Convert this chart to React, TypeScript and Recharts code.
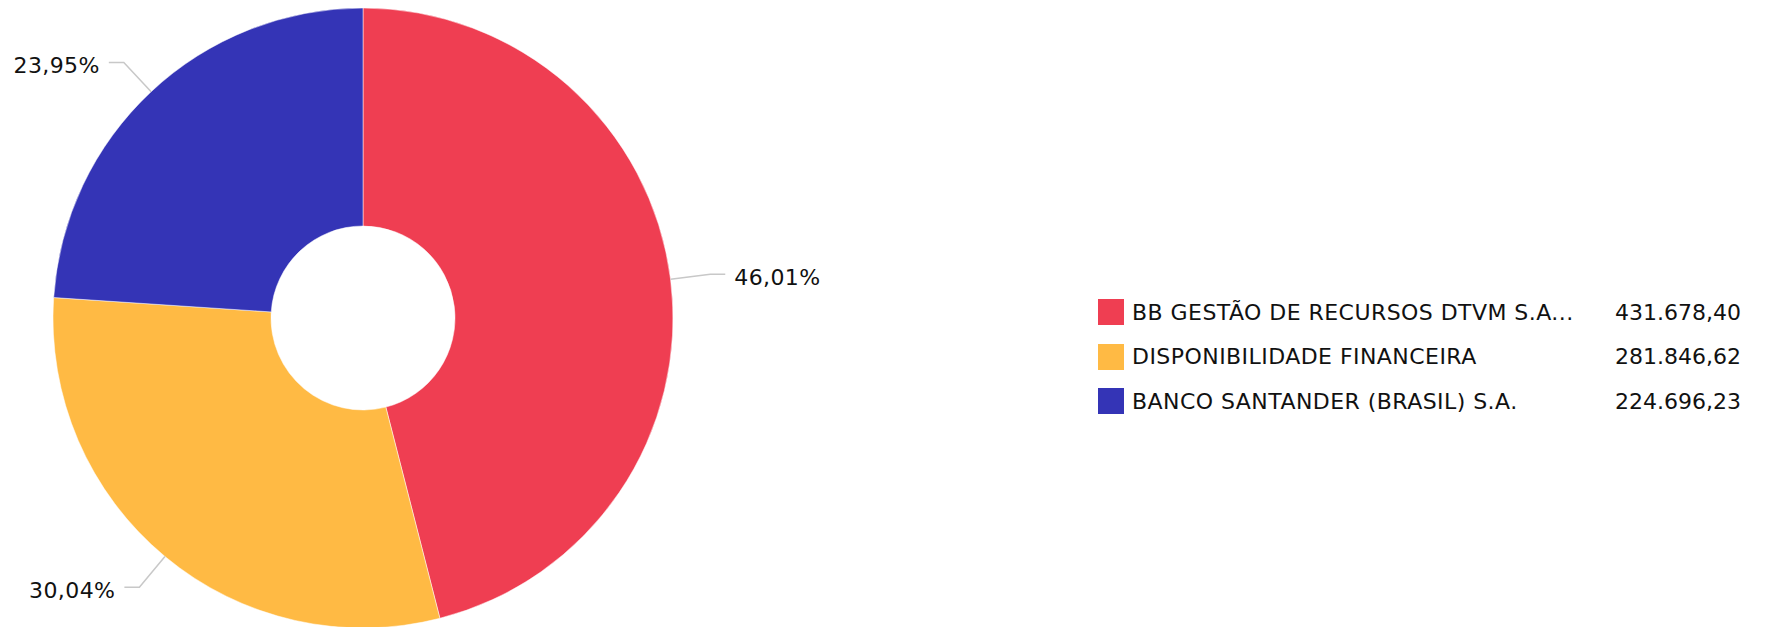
import React from "react";
import { PieChart, Pie, Cell, Legend } from "recharts";

const names = [
  "BB GESTÃO DE RECURSOS DTVM S.A...",
  "DISPONIBILIDADE FINANCEIRA",
  "BANCO SANTANDER (BRASIL) S.A.",
];
const amounts = [431678.4, 281846.62, 224696.23];
const colors = ["#ef3e52", "#ffba44", "#3434b6"];

const data = names.map((name, i) => ({ name, value: amounts[i] }));

const FONT = "'DejaVu Sans', Verdana, sans-serif";
const RADIAN = Math.PI / 180;

const fmtMoney = (v: number) =>
  v.toLocaleString("pt-BR", { minimumFractionDigits: 2, maximumFractionDigits: 2 });

const fmtPct = (p: number) => (p * 100).toFixed(2).replace(".", ",") + "%";

// connector: radial out of the slice, then a short horizontal tail
function renderLabel(props: any) {
  const { cx, cy, midAngle, outerRadius, percent } = props;
  const cos = Math.cos(-midAngle * RADIAN);
  const sin = Math.sin(-midAngle * RADIAN);
  const sx = cx + outerRadius * cos;
  const sy = cy + outerRadius * sin;
  const mx = cx + (outerRadius + 40) * cos;
  const my = cy + (outerRadius + 40) * sin;
  const right = cos >= 0;
  const ex = mx + (right ? 15 : -15);
  const tx = ex + (right ? 9 : -9);
  return (
    <g>
      <path
        d={`M${sx},${sy}L${mx},${my}L${ex},${my}`}
        stroke="#c8c8c8"
        strokeWidth={1.5}
        fill="none"
      />
      <text
        x={tx}
        y={my + 3}
        textAnchor={right ? "start" : "end"}
        dominantBaseline="central"
        fontFamily={FONT}
        fontSize={22}
        letterSpacing={0.4}
        fill="#111"
      >
        {fmtPct(percent)}
      </text>
    </g>
  );
}

function LegendBox() {
  return (
    <div style={{ width: 643, fontFamily: FONT, fontSize: 22, color: "#111" }}>
      {data.map((d, i) => (
        <div
          key={d.name}
          style={{ display: "flex", alignItems: "center", height: 44.5 }}
        >
          <span
            style={{
              width: 26,
              height: 26,
              background: colors[i],
              marginRight: 8,
              flex: "none",
            }}
          />
          <span style={{ flex: 1, whiteSpace: "nowrap", letterSpacing: 0.45 }}>{d.name}</span>
          <span style={{ whiteSpace: "nowrap" }}>{fmtMoney(d.value)}</span>
        </div>
      ))}
    </div>
  );
}

export default function App() {
  return (
    <div style={{ position: "absolute", left: 0, top: 0, width: 1770, height: 627, background: "#fff" }}>
      <PieChart width={1770} height={627} margin={{ top: 0, right: 0, bottom: 0, left: 0 }}>
        <Pie
          data={data}
          dataKey="value"
          nameKey="name"
          cx={363}
          cy={318}
          outerRadius={310}
          innerRadius={92}
          startAngle={90}
          endAngle={-270}
          stroke="#ffffff"
          strokeWidth={0.5}
          label={renderLabel}
          labelLine={false}
          isAnimationActive={false}
        >
          {data.map((d, i) => (
            <Cell key={d.name} fill={colors[i]} />
          ))}
        </Pie>
        <Legend
          content={() => <LegendBox />}
          wrapperStyle={{ position: "absolute", left: 1098, top: 290, width: 643 }}
        />
      </PieChart>
    </div>
  );
}
